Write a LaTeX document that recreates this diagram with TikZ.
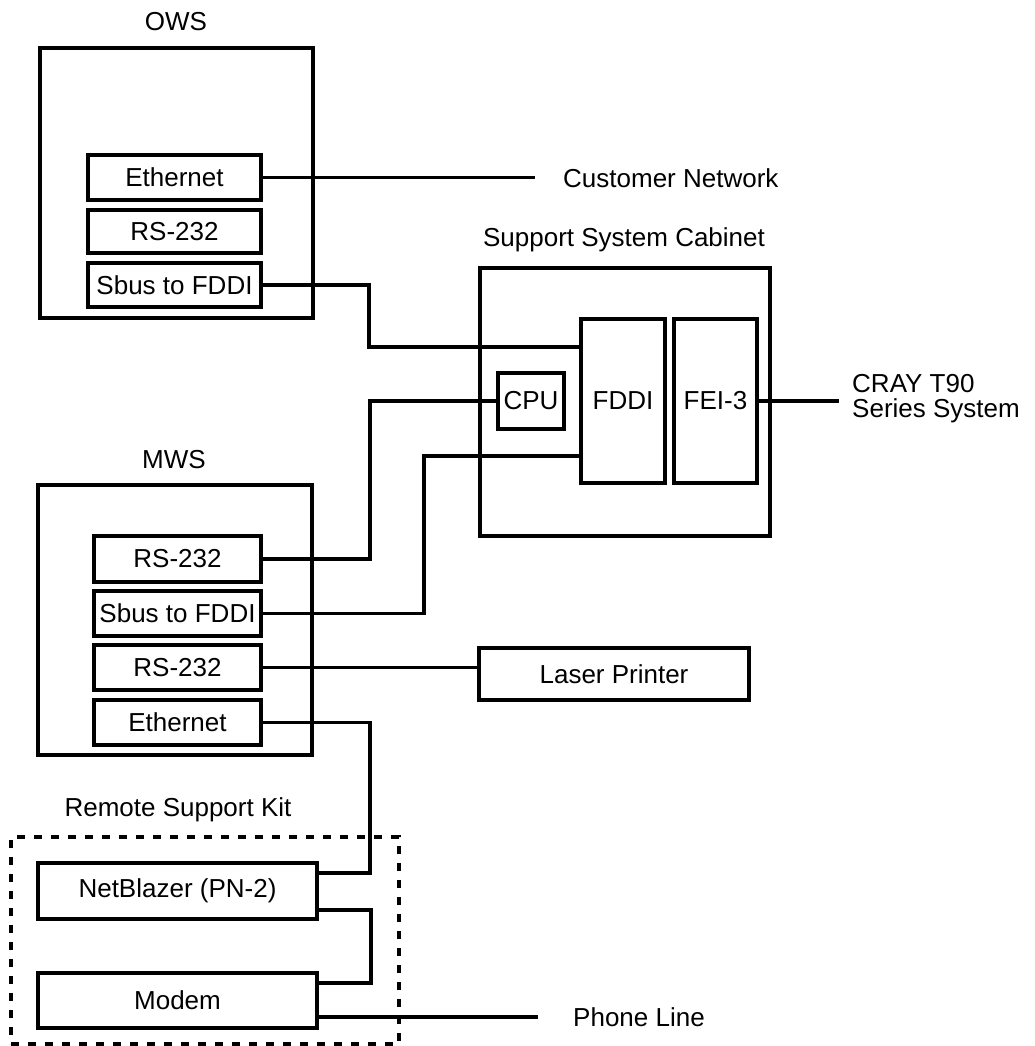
\documentclass[tikz,border=0pt]{standalone}
\usepackage{fontspec}
\setmainfont{Liberation Sans}
\begin{document}
\begin{tikzpicture}[x=1pt,y=-1pt,
  font=\fontsize{26}{25}\selectfont,
  frame/.style={draw, line width=4.6pt, inner sep=0pt},
  card/.style={draw, line width=3.8pt, inner sep=0pt},
  wire/.style={line width=3.2pt},
  kit/.style={draw, line width=3.4pt, dash pattern=on 8pt off 9pt},
  caption/.style={inner sep=0pt}]
\useasboundingbox (0,0) rectangle (1034,1046);

% OWS
\node[caption] (owslbl) at (176,22) {OWS};
\node[frame, minimum width=273, minimum height=270] (ows) at (176.5,183) {};
\node[card, minimum width=173, minimum height=45] (oeth) at (174.5,177.5) {Ethernet};
\node[card, minimum width=173, minimum height=43] (ors) at (174.5,231.5) {RS-232};
\node[card, minimum width=173, minimum height=44] (osbus) at (174.5,285) {Sbus to FDDI};
\node[caption, anchor=west] (custnet) at (563,178) {Customer Network};
\coordinate (custend) at (535,180);

% Support system cabinet
\node[caption] (cablbl) at (624,240) {Support System Cabinet};
\node[frame, minimum width=290, minimum height=268] (cab) at (625,402) {};
\node[card, minimum width=84, minimum height=164] (fddi) at (623,401) {FDDI};
\node[card, minimum width=83, minimum height=164] (fei) at (715.5,401) {FEI-3};
\node[card, minimum width=66, minimum height=56] (cpu) at (531,401) {CPU};
\node[caption, anchor=west, align=left] (cray) at (852,399) {CRAY T90\\Series System};
\coordinate (crayend) at (839,402);

% MWS
\node[caption] (mwslbl) at (174,460) {MWS};
\node[frame, minimum width=274, minimum height=270] (mws) at (175,620) {};
\node[card, minimum width=167, minimum height=46] (mrsa) at (177.5,559) {RS-232};
\node[card, minimum width=167, minimum height=45] (msbus) at (177.5,613.5) {Sbus to FDDI};
\node[card, minimum width=167, minimum height=45] (mrsb) at (177.5,667.5) {RS-232};
\node[card, minimum width=167, minimum height=45] (meth) at (177.5,722.5) {Ethernet};

% Laser printer
\node[frame, minimum width=270, minimum height=52] (laser) at (614,674) {Laser Printer};

% Remote support kit
\node[caption] (kitlbl) at (178,810) {Remote Support Kit};
\node[kit, minimum width=388, minimum height=207] (kitbox) at (205,940.5) {};
\node[frame, minimum width=279, minimum height=56] (nb) at (177.5,891) {NetBlazer (PN-2)};
\node[frame, minimum width=279, minimum height=55] (modem) at (177.5,1000.5) {Modem};
\node[caption, anchor=west] (phone) at (573,1017) {Phone Line};
\coordinate (phoneend) at (538,1017);

% routing heights
\coordinate (ya) at (0,347);
\coordinate (yb) at (0,456);
\coordinate (yc) at (0,873);
\coordinate (yd) at (0,910);
\coordinate (ye) at (0,983);
\coordinate (yf) at (0,1017);

% connectors
\draw[wire] (oeth.east) -- (oeth.east -| custend);
\draw[wire] (osbus.east) -- (369,285) |- (fddi.west |- ya);
\draw[wire] (fei.east) -- (fei.east -| crayend);
\draw[wire] (mrsa.east) -- (370,559) |- (cpu.west);
\draw[wire] (msbus.east) -- (424,613.5) |- (fddi.west |- yb);
\draw[wire] (mrsb.east) -- (mrsb.east -| laser.west);
\draw[wire] (meth.east) -- (370,722.5) |- (nb.east |- yc);
\draw[wire] (nb.east |- yd) -- (371,910) |- (modem.east |- ye);
\draw[wire] (modem.east |- yf) -- (phoneend);
\end{tikzpicture}
\end{document}
